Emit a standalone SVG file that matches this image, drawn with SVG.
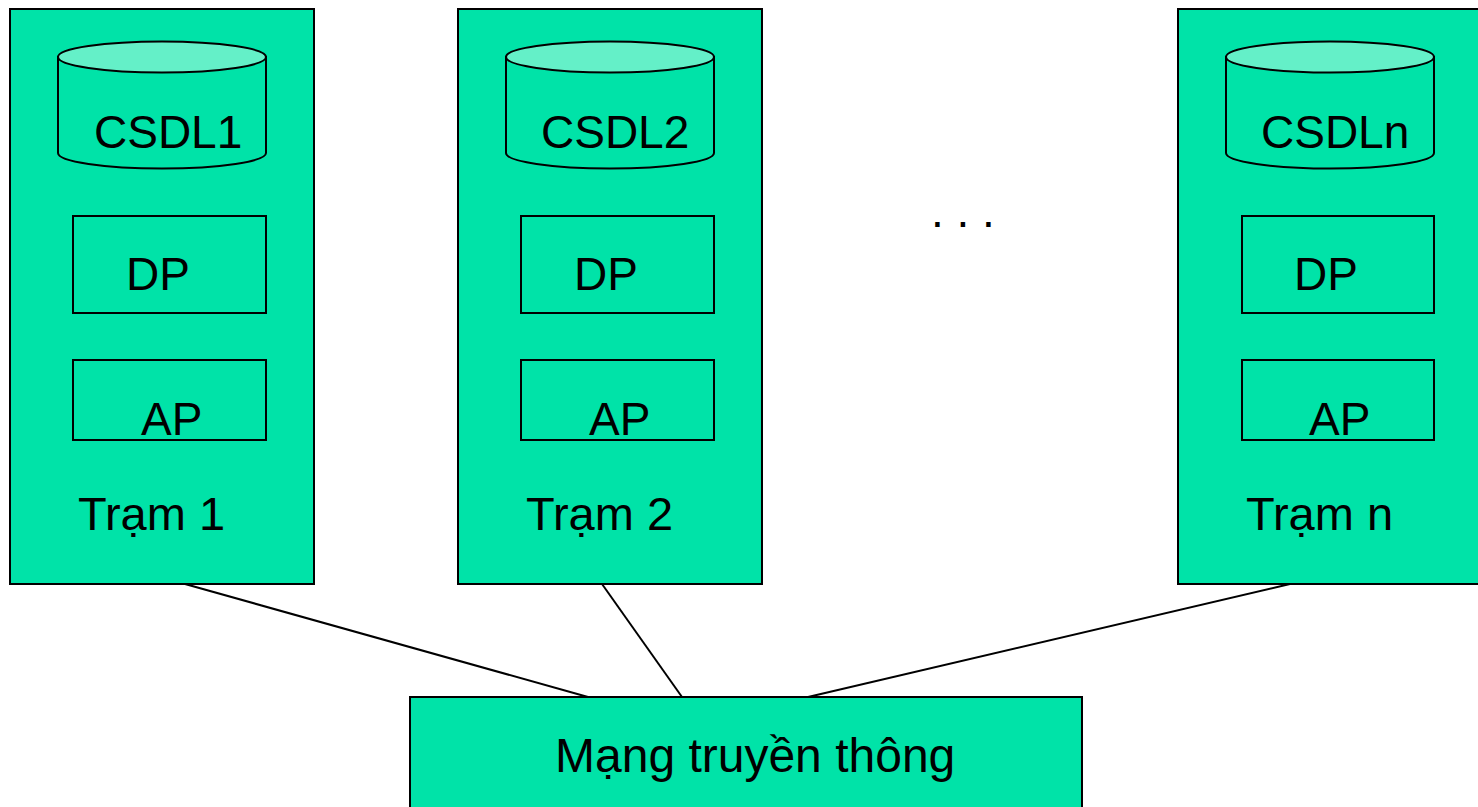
<svg xmlns="http://www.w3.org/2000/svg" width="1478" height="807" viewBox="0 0 1478 807">
<style>
.box{fill:#00E3A8;stroke:#000;stroke-width:2}
.cyl{fill:#00E3A8;stroke:#000;stroke-width:2}
.top{fill:#64F0C8;stroke:#000;stroke-width:2}
.t{font-family:"Liberation Sans",Arial,sans-serif;font-size:46px;fill:#000}
.s{font-size:47px}
.ln{stroke:#000;stroke-width:2;fill:none}
</style>
<rect width="1478" height="807" fill="#fff"/>
<g id="connectors">
<line class="ln" x1="185" y1="584" x2="588" y2="697"/>
<line class="ln" x1="602" y1="584" x2="682" y2="697"/>
<line class="ln" x1="1290" y1="584" x2="808" y2="697"/>
</g>
<g id="tram1">
<rect class="box" x="10" y="9" width="304" height="575"/>
<g id="csdl1">
<path class="cyl" d="M58,57 L58,153 A104,15.5 0 0 0 266,153 L266,57 Z"/>
<ellipse class="top" cx="162" cy="57" rx="104" ry="15.5"/>
<text class="t" x="94" y="148">CSDL1</text>
</g>
<g id="dp1"><rect class="box" x="73" y="216" width="193" height="97"/><text class="t" x="126" y="290">DP</text></g>
<g id="ap1"><rect class="box" x="73" y="360" width="193" height="80"/><text class="t" x="141" y="435">AP</text></g>
<text class="t s" x="78" y="530">Trạm 1</text>
</g>
<g id="tram2">
<rect class="box" x="458" y="9" width="304" height="575"/>
<g id="csdl2">
<path class="cyl" d="M506,57 L506,153 A104,15.5 0 0 0 714,153 L714,57 Z"/>
<ellipse class="top" cx="610" cy="57" rx="104" ry="15.5"/>
<text class="t" x="541" y="148">CSDL2</text>
</g>
<g id="dp2"><rect class="box" x="521" y="216" width="193" height="97"/><text class="t" x="574" y="290">DP</text></g>
<g id="ap2"><rect class="box" x="521" y="360" width="193" height="80"/><text class="t" x="589" y="435">AP</text></g>
<text class="t s" x="526" y="530">Trạm 2</text>
</g>
<g id="tramn">
<rect class="box" x="1178" y="9" width="305" height="575"/>
<g id="csdln">
<path class="cyl" d="M1226,57 L1226,153 A104,15.5 0 0 0 1434,153 L1434,57 Z"/>
<ellipse class="top" cx="1330" cy="57" rx="104" ry="15.5"/>
<text class="t" x="1261" y="148">CSDLn</text>
</g>
<g id="dpn"><rect class="box" x="1242" y="216" width="192" height="97"/><text class="t" x="1294" y="290">DP</text></g>
<g id="apn"><rect class="box" x="1242" y="360" width="192" height="80"/><text class="t" x="1309" y="435">AP</text></g>
<text class="t s" x="1246" y="530">Trạm n</text>
</g>
<text class="t" x="931" y="227">. . .</text>
<g id="mang">
<rect class="box" x="410" y="697" width="672" height="120"/>
<text class="t" x="555" y="772" style="font-size:48px">Mạng truyền thông</text>
</g>
</svg>
